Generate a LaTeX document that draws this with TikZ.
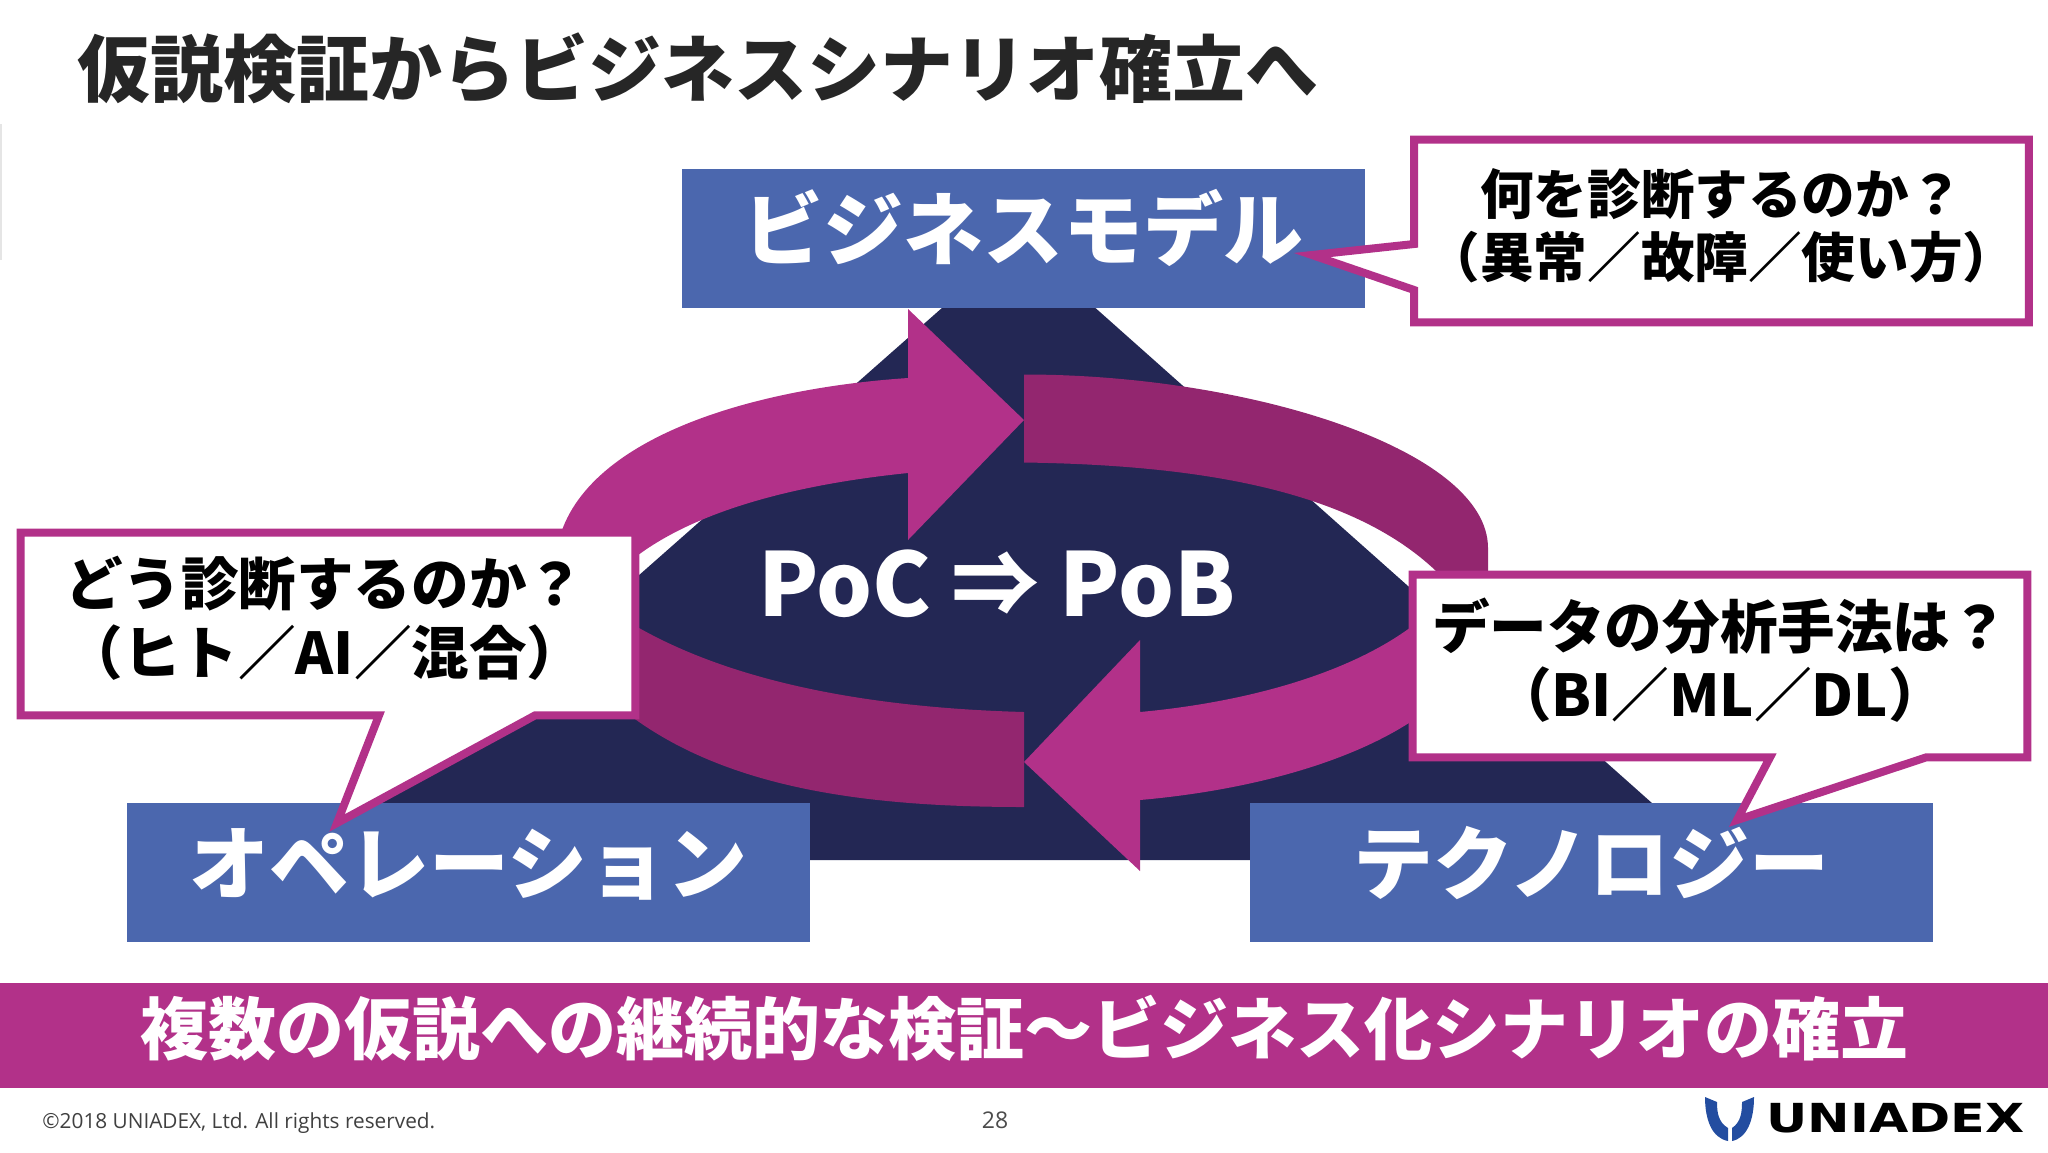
\documentclass[tikz,border=0pt]{standalone}
\usepackage{fontspec}
\setmainfont{Noto Sans CJK JP}
\newfontfamily\logofont{DejaVu Sans}
\newfontfamily\footfont{Open Sans}
\usetikzlibrary{calc, positioning}

\definecolor{plum}{HTML}{B23189}
\definecolor{darkplum}{HTML}{93266F}
\definecolor{navy}{HTML}{232754}
\definecolor{boxblue}{HTML}{4B67AE}
\definecolor{logoblue}{HTML}{234DA0}

\tikzset{
	block/.style={fill=boxblue,text=white,inner sep=0pt,minimum width=341.5pt,minimum height=69.5pt,
		text height=30pt,text depth=9pt,font=\bfseries\fontsize{40}{44}\selectfont},
	callbox/.style={inner sep=0pt,minimum width=307pt,minimum height=91pt},
	outline/.style={draw=plum,line width=4pt,line join=miter,fill=white},
	calltext/.style={align=center,text=black,font=\bfseries\fontsize{#1}{#1}\selectfont},
}

\begin{document}
\begin{tikzpicture}[x=0.5pt,y=-0.5pt]
	\useasboundingbox (0,0) rectangle (2048,1152);
	\fill[black!10] (0,124) rectangle (2,260);

	% title
	\node[anchor=west,text=black!85] (title) at (70,68)
		{\bfseries\fontsize{36.5}{40}\selectfont 仮説検証からビジネスシナリオ確立へ};

	% triangle
	\fill[navy] (1019,240) -- (1716,860) -- (316,860) -- cycle;

	% ring
	\fill[darkplum] (1024,374.5) .. controls (1250,374.5) and (1488,450) .. (1488,548)
		-- (1488,580) -- (1445,580)
		.. controls (1360,490) and (1200,465) .. (1024,462.5) -- cycle;
	\fill[darkplum] (1024,712) .. controls (880,708) and (720,685) .. (610,610)
		-- (590,680) .. controls (690,785) and (850,807) .. (1024,807) -- cycle;
	\fill[plum] (555,570) .. controls (555,450) and (730,390) .. (908,378)
		-- (908,309) -- (1024,420) -- (908,540) -- (908,473)
		.. controls (790,485) and (670,515) .. (610,580) -- cycle;
	\fill[plum] (1450,590) .. controls (1395,660) and (1270,700) .. (1140,712)
		-- (1140,640) -- (1024,762) -- (1140,871) -- (1140,800)
		.. controls (1310,785) and (1470,725) .. (1488,620) -- cycle;

	% blocks
	\node[block] (business) at (1023.5,238.5){ビジネスモデル};
	\node[block] (operation) at (468.5,872.5){オペレーション};
	\node[block] (technology) at (1591.5,872){テクノロジー};

	\node[text=white,font=\bfseries\fontsize{44}{48}\selectfont] (poc) at (997,584){PoC ⇒ PoB};

	% callouts
	\node[callbox] (whatbox) at (1721.5,231){};
	\draw[outline] (whatbox.north west) -- (whatbox.north east) -- (whatbox.south east)
		-- (whatbox.south west) -- (whatbox.west |- 0,290) -- (1312,255)
		-- (whatbox.west |- 0,244) -- cycle;
	\node[calltext=26.8] (whattext) at ($(whatbox)+(0,-5)$){何を診断するのか？\\[4.5pt]（異常／故障／使い方）};

	\node[callbox] (howbox) at (328,624){};
	\draw[outline] (howbox.north west) -- (howbox.north east) -- (howbox.south east)
		-- (howbox.south -| 535,0) -- (337,823) -- (howbox.south -| 379,0)
		-- (howbox.south west) -- cycle;
	\node[calltext=28.8] (howtext) at ($(howbox)+(-3,-6)$){どう診断するのか？\\[5.5pt]（ヒト／AI／混合）};

	\node[callbox] (databox) at (1720,666){};
	\draw[outline] (databox.north west) -- (databox.north east) -- (databox.south east)
		-- (databox.south -| 1926,0) -- (1737,820) -- (databox.south -| 1770,0)
		-- (databox.south west) -- cycle;
	\node[calltext=28.8] (datatext) at ($(databox)+(0,-6)$){データの分析手法は？\\[5.5pt]（BI／ML／DL）};

	% banner
	\node[fill=plum,text=white,inner sep=0pt,minimum width=1024pt,minimum height=52.5pt,
		text height=26pt,text depth=7pt,font=\bfseries\fontsize{34}{38}\selectfont] (banner) at (1024,1035.5)
		{複数の仮説への継続的な検証～ビジネス化シナリオの確立};

	% footer
	\node[anchor=west,inner sep=0pt,text=black!75,font=\footfont\fontsize{10.4}{13}\selectfont] (copyright) at (42,1123)
		{©2018 UNIADEX, Ltd. All rights reserved.};
	\node[text=black!70,font=\footfont\fontsize{11.5}{13}\selectfont] (pagenum) at (995,1120){28};

	% logo
	\fill[logoblue] (1705,1097) -- (1717,1102) .. controls (1717,1112) and (1718,1122) .. (1728,1128)
		-- (1728,1141) .. controls (1712,1138) and (1705,1120) .. cycle;
	\fill[logoblue] (1754,1097) -- (1742,1102) .. controls (1742,1112) and (1741,1122) .. (1732,1128)
		-- (1732,1141) .. controls (1747,1138) and (1754,1120) .. cycle;
	\node[anchor=west,inner sep=0pt,xscale=1.27,font=\logofont\bfseries\fontsize{20}{22}\selectfont] (logo) at (1766,1118.5)
		{UNIADEX};
\end{tikzpicture}
\end{document}
